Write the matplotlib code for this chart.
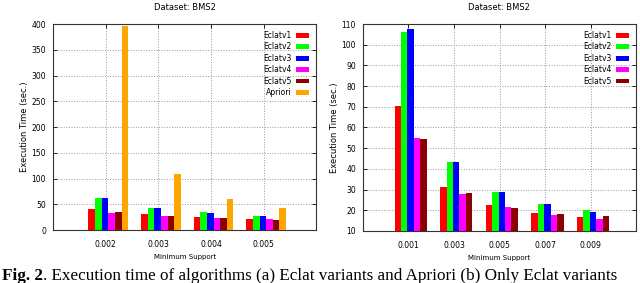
import numpy as np
import matplotlib
matplotlib.use("Agg")
import matplotlib.pyplot as plt

# left chart: Eclat variants and Apriori
supports_a = ["0.002", "0.003", "0.004", "0.005"]
eclat1_a = [41, 31, 25, 21.5]
eclat2_a = [62.5, 43, 35.5, 28]
eclat3_a = [62.5, 43, 33.5, 27.5]
eclat4_a = [34, 27, 23, 21]
eclat5_a = [36, 27, 23, 20.5]
apriori_a = [397, 109, 60.5, 43]

# right chart: only Eclat variants
supports_b = ["0.001", "0.003", "0.005", "0.007", "0.009"]
eclat1_b = [70.5, 31.2, 22.3, 18.8, 16.6]
eclat2_b = [106.2, 43.5, 29, 23, 20.2]
eclat3_b = [107.6, 43.2, 28.6, 22.8, 19.2]
eclat4_b = [55, 28, 21.5, 17.8, 16]
eclat5_b = [54.4, 28.2, 21.3, 18, 17]

names = ["Eclatv1", "Eclatv2", "Eclatv3", "Eclatv4", "Eclatv5", "Apriori"]
colors = ["#ff0000", "#00ff00", "#0000ff", "#ff00ff", "#8b0000", "#ffa500"]

plt.rcParams['font.family'] = 'DejaVu Sans'
fig = plt.figure(figsize=(6.4, 2.83), dpi=100)


def draw(ax, cats, series, ymin, ymax, ystep, width, bottom):
    x = np.arange(1, len(cats) + 1)
    n = len(series)
    for i, vals in enumerate(series):
        off = (i - (n - 1) / 2) * width + 0.05
        ax.bar(x + off, np.array(vals) - bottom, width, bottom=bottom,
               color=colors[i], label=names[i], zorder=3)
    ax.set_xlim(0, len(cats) + 1)
    ax.set_ylim(ymin, ymax)
    ax.set_xticks(x)
    ax.set_xticklabels(cats)
    ax.set_yticks(np.arange(ymin, ymax + 1, ystep))
    ax.grid(True, linestyle=':', color='#999999', linewidth=0.7, zorder=0)
    ax.tick_params(direction='in', length=3, width=0.6, labelsize=5.5,
                   top=True, right=True)
    ax.tick_params(axis='x', pad=7)
    ax.tick_params(axis='y', pad=5)
    for s in ax.spines.values():
        s.set_linewidth(0.8)
        s.set_color('#333333')
    ax.set_xlabel('Minimum Support', fontsize=5, labelpad=4)
    ax.set_ylabel('Execution Time (sec.)', fontsize=6, labelpad=2)
    ax.legend(loc='upper right', frameon=False, markerfirst=False,
              fontsize=5.5, handlelength=1.8, handleheight=0.6,
              labelspacing=0.32, borderaxespad=0.5, handletextpad=0.5)


ax1 = fig.add_axes([0.083, 0.187, 0.411, 0.728])
draw(ax1, supports_a, [eclat1_a, eclat2_a, eclat3_a, eclat4_a, eclat5_a, apriori_a],
     0, 400, 50, 0.126, 0)

ax2 = fig.add_axes([0.567, 0.184, 0.427, 0.731])
draw(ax2, supports_b, [eclat1_b, eclat2_b, eclat3_b, eclat4_b, eclat5_b],
     10, 110, 10, 0.142, 10)

fig.text(0.289, 0.975, 'Dataset: BMS2', ha='center', va='center', fontsize=6)
fig.text(0.78, 0.975, 'Dataset: BMS2', ha='center', va='center', fontsize=6)

# caption below the two charts
cap_y = 0.012
t1 = fig.text(0.003, cap_y, 'Fig. 2', fontsize=12.3, fontweight='bold',
              family='Liberation Serif', ha='left', va='baseline')
fig.canvas.draw()
bb = t1.get_window_extent()
fig.text(bb.x1 / fig.bbox.width, cap_y,
         '. Execution time of algorithms (a) Eclat variants and Apriori (b) Only Eclat variants',
         fontsize=12.3, family='Liberation Serif', ha='left', va='baseline')

fig.savefig('out.png', dpi=100)
